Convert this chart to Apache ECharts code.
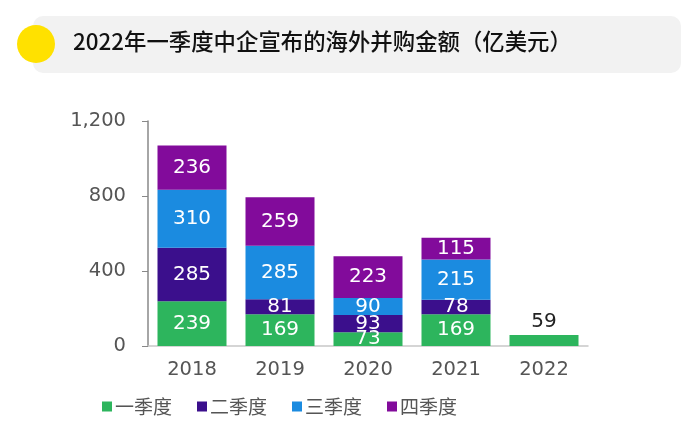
<!DOCTYPE html>
<html><head><meta charset="utf-8">
<script src="https://cdn.jsdelivr.net/npm/echarts@6/dist/echarts.min.js"></script>
<style>html,body{margin:0;padding:0;background:#fff}#c{width:700px;height:434px}</style>
</head><body><div id="c"></div>
<script>
const categories = ['2018','2019','2020','2021','2022'];
const q1 = [239,169,73,169,59];
const q2 = [285,81,93,78,null];
const q3 = [310,285,90,215,null];
const q4 = [236,259,223,115,null];
const seriesNames = ['一季度','二季度','三季度','四季度'];
const yTicks = [0,400,800,1200];

const colors = ['#2db55d','#3b0f8c','#1b8be0','#820b9b'];
const dataSets = [q1,q2,q3,q4];
const chart = echarts.init(document.getElementById('c'));
const series = dataSets.map((d,i)=>({
  name: seriesNames[i], type:'bar', stack:'s', barWidth:69,
  itemStyle:{color:colors[i]},
  data: d.map((v,j)=>{
    if(v==null) return null;
    const only = i===0 && q2[j]==null;
    return {value:v, label: only ? {position:'top', color:'#222', distance:3} : {}};
  }),
  label:{show:true, position:'inside', color:'#fff', fontSize:20, fontFamily:'DejaVu Sans'}
}));
chart.setOption({
  animation:false,
  textStyle:{fontFamily:'DejaVu Sans'},
  graphic:[
    {type:'rect', shape:{x:33,y:16,width:648,height:57,r:10}, style:{fill:'#f2f2f2'}, z:-1},
    {type:'circle', shape:{cx:36,cy:44,r:19}, style:{fill:'#ffe100'}},
    {type:'text', left:73, top:30, style:{text:'2022年一季度中企宣布的海外并购金额（亿美元）', fontSize:22.4, fontWeight:500, fill:'#111', fontFamily:'Noto Sans CJK SC'}}
  ],
  legend:{left:97, top:392, itemWidth:10, itemHeight:10, itemGap:25, icon:'rect',
    textStyle:{fontSize:19, color:'#555', fontFamily:'Noto Sans CJK SC', padding:[0,0,0,-2]}, data:seriesNames},
  grid:{left:148, right:112, top:121, bottom:88},
  xAxis:{type:'category', data:categories,
    axisLine:{lineStyle:{color:'#c8c8c8', width:1.5}}, axisTick:{show:false},
    axisLabel:{fontSize:19.5, color:'#555', margin:14}},
  yAxis:{type:'value', min:yTicks[0], max:yTicks[yTicks.length-1], interval:400,
    splitLine:{show:false},
    axisLine:{show:true, lineStyle:{color:'#888', width:1.5}},
    axisTick:{show:true, length:6, lineStyle:{color:'#888'}},
    axisLabel:{fontSize:19.5, color:'#555', margin:22, formatter:v=>v.toLocaleString('en-US')}},
  series
});
</script></body></html>
